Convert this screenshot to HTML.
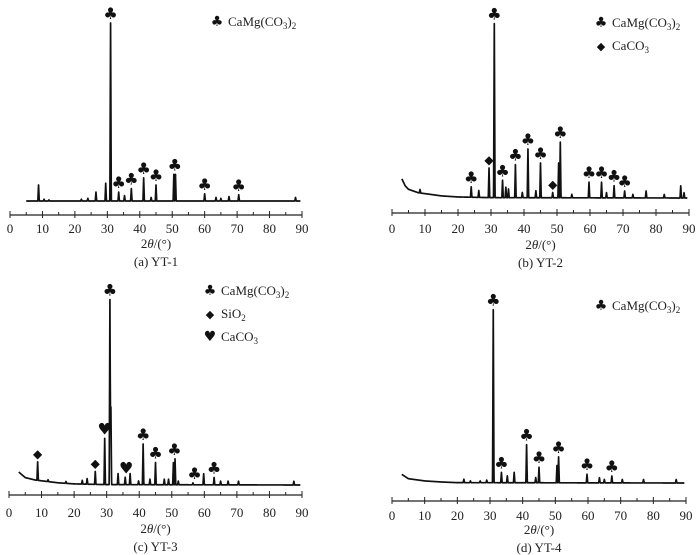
<!DOCTYPE html>
<html><head><meta charset="utf-8"><style>
html,body{margin:0;padding:0;background:#fff;}
svg{display:block;font-family:"Liberation Serif",serif;}
</style></head><body>
<svg id="c" width="700" height="555" viewBox="0 0 700 555"></svg>
<script>
// Panel (a) YT-1
const aPeakPos = [8.8,10.5,12,22,24,26.5,29.5,31,33.5,35.3,37.4,41.2,43.5,45,50.5,51,60,63.5,65,67.5,70.5,88];
const aPeakInt = [0.09,0.01,0.006,0.01,0.015,0.05,0.1,1.0,0.05,0.03,0.07,0.13,0.02,0.09,0.15,0.15,0.04,0.02,0.015,0.025,0.035,0.02];
const aBgX = [5,90];
const aBgY = [0,0];
const aClub = [31,33.5,37.4,41.2,45,50.8,60,70.5];
// Panel (b) YT-2
const bPeakPos = [8.5,24,26.3,29.4,31,33.5,34.5,35.3,37.4,39.5,41.2,43.6,45,48.7,50.5,51,54.5,59.7,63.5,65,67.3,70.5,73,77,82.5,87.5,88.5];
const bPeakInt = [0.02,0.06,0.04,0.17,1.0,0.1,0.06,0.05,0.19,0.03,0.28,0.04,0.2,0.03,0.2,0.32,0.02,0.09,0.09,0.03,0.07,0.04,0.02,0.04,0.02,0.07,0.03];
const bBgX = [3,4,5,8,12,15,20,30,90];
const bBgY = [0.11,0.07,0.05,0.03,0.02,0.012,0.006,0.002,0];
const bClub = [24,31,33.5,37.4,41.2,45,51,59.7,63.5,67.3,70.5];
const bDiamond = [29.4,48.7];
// Panel (c) YT-3
const cPeakPos = [8.8,12,17.5,22.5,24,26.5,29.4,31,31.3,33.5,35.7,37.2,39.8,41.2,43.3,45,47.7,49,50.5,51,52,56.5,59.8,63,65,67.3,70.5,87.5];
const cPeakInt = [0.1,0.01,0.01,0.02,0.03,0.07,0.25,1.0,0.42,0.06,0.04,0.06,0.02,0.22,0.03,0.12,0.03,0.03,0.12,0.14,0.02,0.01,0.06,0.04,0.02,0.02,0.02,0.02];
const cBgX = [3,5,8,15,20,30,90];
const cBgY = [0.07,0.04,0.027,0.012,0.006,0.002,0];
const cClub = [31,41.2,45,50.8,57,63];
const cDiamond = [8.8,26.5];
const cHeart = [29.4,36];
// Panel (d) YT-4
const dPeakPos = [22,24,27,29,31,33.5,35.3,37.4,41.2,44,45,50.5,51,59.7,63.5,65,67.3,70.5,77,87];
const dPeakInt = [0.02,0.01,0.01,0.015,1.0,0.06,0.04,0.06,0.22,0.03,0.09,0.1,0.15,0.05,0.03,0.02,0.04,0.02,0.02,0.02];
const dBgX = [3,5,10,15,20,90];
const dBgY = [0.05,0.025,0.012,0.006,0.002,0];
const dClub = [31,33.5,41.2,45,51,59.7,67.3];
const tickLabels = ["0","10","20","30","40","50","60","70","80","90"];

const NS="http://www.w3.org/2000/svg";
const svg=document.getElementById('c');
function mk(tag,attrs,parent){const e=document.createElementNS(NS,tag);for(const k in attrs)e.setAttribute(k,attrs[k]);(parent||svg).appendChild(e);return e;}

const panels=[
 {id:'a',x0:10,x1:302,axisY:215,base:201,top:23,start:5,pos:aPeakPos,inten:aPeakInt,bgx:aBgX,bgy:aBgY,club:aClub,dia:[],heart:[],lblY:228,xtY:244,capY:262,cap:"(a) YT-1",leg:{x:217,y:21,items:[["club","CaMg(CO","3",")","2"]]}},
 {id:'b',x0:392,x1:689,axisY:213,base:198,top:24,start:3,pos:bPeakPos,inten:bPeakInt,bgx:bBgX,bgy:bBgY,club:bClub,dia:bDiamond,heart:[],lblY:228,xtY:245,capY:263,cap:"(b) YT-2",leg:{x:601,y:22,items:[["club","CaMg(CO","3",")","2"],["dia","CaCO","3","",""]]}},
 {id:'c',x0:9,x1:302,axisY:495,base:485,top:300,start:3,pos:cPeakPos,inten:cPeakInt,bgx:cBgX,bgy:cBgY,club:cClub,dia:cDiamond,heart:cHeart,lblY:512,xtY:529,capY:547,cap:"(c) YT-3",leg:{x:210,y:290,items:[["club","CaMg(CO","3",")","2"],["dia","SiO","2","",""],["heart","CaCO","3","",""]]}},
 {id:'d',x0:392,x1:686,axisY:501,base:483,top:310,start:3,pos:dPeakPos,inten:dPeakInt,bgx:dBgX,bgy:dBgY,club:dClub,dia:[],heart:[],lblY:515,xtY:530,capY:548,cap:"(d) YT-4",leg:{x:601,y:305,items:[["club","CaMg(CO","3",")","2"]]}}
];
const glyph={club:"\u2663",dia:"\u25C6",heart:"\u2665"};

function bgAt(p,x){const X=p.bgx,Y=p.bgy;if(x<=X[0])return Y[0];for(let i=1;i<X.length;i++){if(x<=X[i]){const t=(x-X[i-1])/(X[i]-X[i-1]);return Y[i-1]+t*(Y[i]-Y[i-1]);}}return Y[Y.length-1];}
function intAt(p,x){let v=bgAt(p,x);for(let i=0;i<p.pos.length;i++){const d=Math.abs(x-p.pos[i]);const w=0.22;if(d<w)v+=p.inten[i]*(1-d/w);}return v;}
function localMax(p,x){let m=0;for(let i=0;i<p.pos.length;i++){if(Math.abs(p.pos[i]-x)<=0.7)m=Math.max(m,p.inten[i]+bgAt(p,p.pos[i]));}return m||intAt(p,x);}

panels.forEach(p=>{
 const g=mk('g',{});
 
 
 const sx=v=>p.x0+(p.x1-p.x0)*v/90;
 const sy=v=>p.base-(p.base-p.top)*v;
 const ax=mk('line',{x1:p.x0,y1:p.axisY,x2:p.x1,y2:p.axisY,stroke:'#222','stroke-width':1.2},g);
 
 
 for(let t=0;t<=90;t+=5){const major=t%10===0;
  const tk=mk('line',{x1:sx(t),x2:sx(t),y1:p.axisY-(major?4:3),y2:p.axisY+(major?3:0),stroke:'#222','stroke-width':1},g);
  
  }
 tickLabels.forEach((l,i)=>{const tx=mk('text',{x:sx(i*10),y:p.lblY+5,'text-anchor':'middle','font-size':13,fill:'#222'},g);tx.textContent=l;
  
  });
 const xt=mk('text',{x:(p.x0+p.x1)/2,y:p.xtY+4,'text-anchor':'middle','font-size':13,fill:'#222'},g);
 xt.innerHTML='2<tspan font-style="italic">θ</tspan>/(°)';
 
 
 const cp=mk('text',{x:(p.x0+p.x1)/2,y:p.capY+4,'text-anchor':'middle','font-size':13,fill:'#222'},g);
 cp.textContent=p.cap;
 
 
 let d='';for(let x=p.start;x<=89.5;x+=0.05){d+=(d?'L':'M')+sx(x).toFixed(2)+','+sy(intAt(p,x)).toFixed(2);}
 const tr=mk('path',{d:d,fill:'none',stroke:'#111','stroke-width':1.7,'stroke-linejoin':'round'},g);
 
 
 [['club',p.club],['dia',p.dia],['heart',p.heart]].forEach(([k,arr])=>{
  arr.forEach(x=>{const yy=sy(localMax(p,x))-4;const m=mk('text',{x:sx(x),y:Math.min(yy,p.base-6),'text-anchor':'middle','font-size':k==='dia'?12:16,fill:'#111','font-family':'DejaVu Sans, sans-serif'},g);
   m.textContent=glyph[k];
   
   });
 });
 p.leg.items.forEach((it,i)=>{const y=p.leg.y+i*23;
  const s=mk('text',{x:p.leg.x,y:y+5,'text-anchor':'middle','font-size':it[0]==='dia'?11:14,fill:'#111','font-family':'DejaVu Sans, sans-serif'},g);
  s.textContent=glyph[it[0]];
  
  
  const t=mk('text',{x:p.leg.x+11,y:y+5,'font-size':13,fill:'#222'},g);
  t.innerHTML=it[1]+'<tspan font-size="9" dy="3">'+it[2]+'</tspan>'+(it[3]?'<tspan dy="-3">'+it[3]+'</tspan><tspan font-size="9" dy="3">'+it[4]+'</tspan>':'');
  
  
 });
});
</script>
</body></html>
